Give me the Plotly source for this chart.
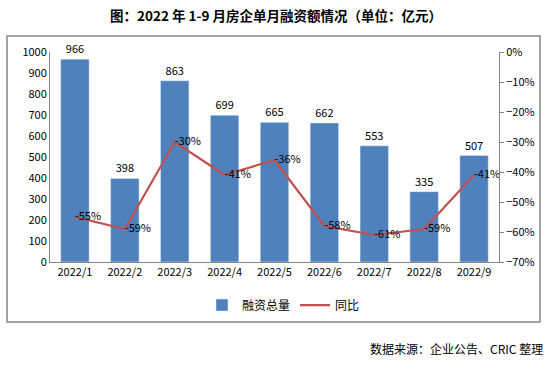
import plotly.graph_objects as go

categories = ["2022/1", "2022/2", "2022/3", "2022/4", "2022/5", "2022/6", "2022/7", "2022/8", "2022/9"]
financing = [966, 398, 863, 699, 665, 662, 553, 335, 507]
yoy_pct = [-55, -59, -30, -41, -36, -58, -61, -59, -41]

yoy = [v / 100 for v in yoy_pct]
yoy_text = [f"-{abs(v)}%" for v in yoy_pct]

FONT = "Noto Sans CJK SC, DejaVu Sans, sans-serif"
BAR = "#4F81BD"
LINE = "#C0504D"
AXIS = "#868686"

fig = go.Figure()
fig.add_trace(go.Bar(
    x=categories, y=financing, name="融资总量", marker_color=BAR,
    text=[str(v) for v in financing], textposition="outside",
    textfont=dict(size=11, color="#000000", family=FONT), cliponaxis=False,
))
fig.add_trace(go.Scatter(
    x=categories, y=yoy, name="同比", yaxis="y2", mode="lines+text",
    line=dict(color=LINE, width=2.2),
    text=yoy_text, textposition="middle right",
    textfont=dict(size=11, color="#000000", family=FONT), cliponaxis=False,
))

fig.update_layout(
    width=553, height=366,
    margin=dict(l=50, r=54, t=52, b=104),
    paper_bgcolor="white", plot_bgcolor="white",
    font=dict(family=FONT, size=11, color="#000000"),
    bargap=0.43,
    showlegend=True,
    legend=dict(orientation="h", x=0.52, xanchor="center", y=-0.205, yanchor="middle",
                font=dict(size=12, family=FONT), traceorder="normal",
                itemwidth=30, bgcolor="rgba(0,0,0,0)"),
    xaxis=dict(showline=True, linecolor=AXIS, linewidth=1, ticks="", showgrid=False,
               tickfont=dict(size=11), zeroline=False, automargin=False),
    yaxis=dict(range=[0, 1000], dtick=100, showline=True, linecolor=AXIS, linewidth=1,
               showgrid=False, zeroline=False, ticks="", tickfont=dict(size=11), automargin=False),
    yaxis2=dict(range=[-0.7, 0], dtick=0.1, tickformat=".0%", overlaying="y", side="right",
                showline=True, linecolor=AXIS, linewidth=1, showgrid=False, zeroline=False,
                ticks="outside", ticklen=4, tickcolor=AXIS, tickfont=dict(size=11), automargin=False),
    shapes=[dict(type="rect", xref="paper", yref="paper",
                 x0=(7 - 50) / 449, x1=(540 - 50) / 449,
                 y0=(262 - 322) / 210, y1=(262 - 36) / 210,
                 line=dict(color=AXIS, width=1.5), fillcolor="rgba(0,0,0,0)", layer="above")],
    annotations=[
        dict(text="<b>图：2022 年 1-9 月房企单月融资额情况（单位：亿元）</b>",
             xref="paper", yref="paper", x=(276 - 50) / 449, y=(262 - 15) / 210,
             xanchor="center", yanchor="middle", showarrow=False,
             font=dict(size=13.5, family=FONT, color="#000000")),
        dict(text="数据来源：企业公告、CRIC 整理",
             xref="paper", yref="paper", x=(545 - 50) / 449, y=(262 - 348) / 210,
             xanchor="right", yanchor="middle", showarrow=False,
             font=dict(size=12, family=FONT, color="#000000")),
    ],
)

fig.write_html("out.html", config={"displayModeBar": False},
               post_script="document.body.style.margin='0';document.body.style.overflow='hidden';")
